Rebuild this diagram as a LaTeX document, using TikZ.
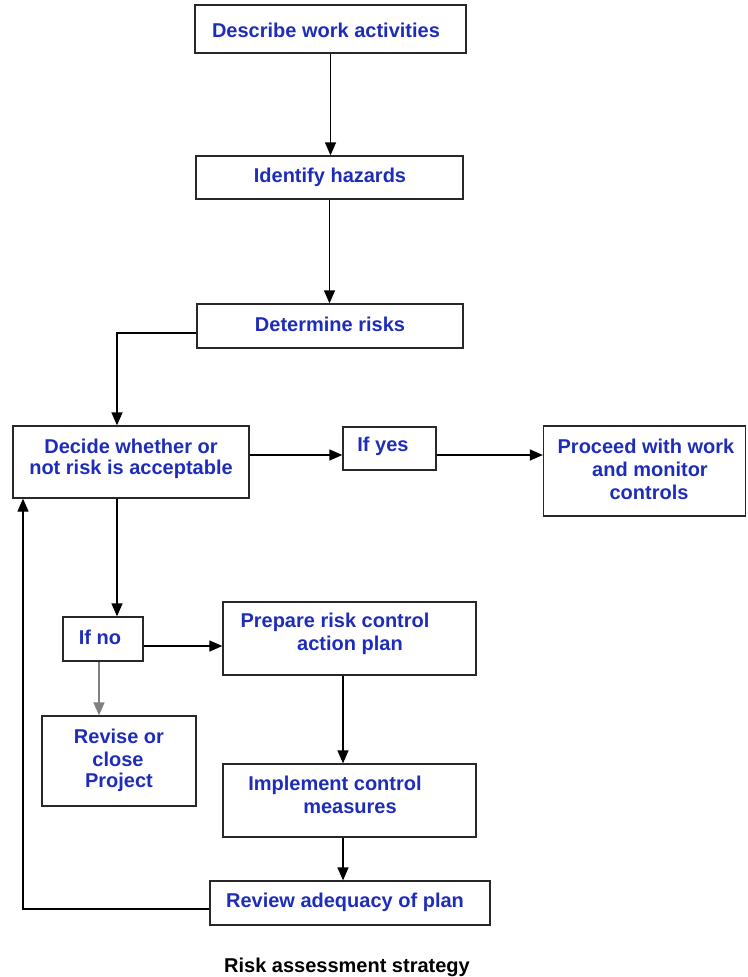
\documentclass[tikz,border=0pt]{standalone}
\usepackage{fontspec}
\setmainfont{Liberation Sans}
\usetikzlibrary{arrows.meta,calc}
\definecolor{txtblue}{RGB}{30,45,185}
\definecolor{linegray}{RGB}{40,40,40}
\begin{document}
\begin{tikzpicture}[x=1pt,y=-1pt,
  box/.style={draw=linegray,line width=1.3pt,inner sep=0pt,rectangle},
  lbl/.style={text=txtblue,font=\fontsize{20}{23}\selectfont\bfseries,inner sep=0pt,align=center},
  arr/.style={draw=black,line width=1.3pt,-{Triangle[length=13pt,width=11pt]}}]
\useasboundingbox (0,0) rectangle (747,977);
% boxes
\node[box,minimum width=271pt,minimum height=48pt] (d) at (330.5,29) {};
\node[box,minimum width=267pt,minimum height=43pt] (ih) at (329.5,177.5) {};
\node[box,minimum width=266pt,minimum height=44pt] (dr) at (330,326) {};
\node[box,minimum width=236pt,minimum height=72pt] (dec) at (131,462) {};
\node[box,minimum width=93pt,minimum height=43pt] (yes) at (389.5,448.5) {};
\node[box,minimum width=202pt,minimum height=90pt] (proc) at (644.5,471) {};
\node[box,minimum width=80pt,minimum height=44pt] (no) at (103,639) {};
\node[box,minimum width=253pt,minimum height=73pt] (prep) at (349.5,638.5) {};
\node[box,minimum width=154pt,minimum height=90pt] (rev) at (119,761) {};
\node[box,minimum width=253pt,minimum height=73pt] (imp) at (349.5,800.5) {};
\node[box,minimum width=280pt,minimum height=44pt] (revw) at (350,903) {};
% texts
\node[lbl] (t1) at (326,30) {Describe work activities};
\node[lbl] (t2) at (330,177) {Identify hazards};
\node[lbl] (t3) at (330,324) {Determine risks};
\node[lbl] (t4a) at (131,446) {Decide whether or};
\node[lbl] (t4b) at (131,469) {not risk is acceptable};
\node[lbl] (t5) at (383,446) {If yes};
\node[lbl] (t6a) at (646,446) {Proceed with work};
\node[lbl] (t6b) at (650,469) {and monitor};
\node[lbl] (t6c) at (649,492) {controls};
\node[lbl] (t7) at (100,637) {If no};
\node[lbl] (t8a) at (335,622) {Prepare risk control};
\node[lbl] (t8b) at (350,645) {action plan};
\node[lbl] (t9a) at (119,736) {Revise or};
\node[lbl] (t9b) at (118,759) {close};
\node[lbl] (t9c) at (119,782) {Project};
\node[lbl] (t10a) at (335,785) {Implement control};
\node[lbl] (t10b) at (350,808) {measures};
\node[lbl] (t11) at (345,902) {Review adequacy of plan};
\node[lbl,text=black] (cap) at (347,967) {Risk assessment strategy};
% connectors
\draw[arr] (d.south) -- (d.south |- ih.north);
\draw[arr] (ih.south) -- (ih.south |- dr.north);
\draw[arr] ([yshift=-7pt]dr.west) -| ([xshift=-14pt]dec.north);
\draw[arr] (dec.east |- 0,455) -- (yes.west |- 0,455);
\draw[arr] (yes.east |- 0,455) -- (proc.west |- 0,455);
\draw[arr] ([xshift=-14pt]dec.south) -- ([xshift=-14pt]dec.south |- no.north);
\draw[arr] ([yshift=-7pt]no.east) -- ([yshift=-7pt]no.east -| prep.west);
\draw[arr,draw=gray] ([xshift=-4pt]no.south) -- ([xshift=-4pt]no.south |- rev.north);
\draw[arr] ([xshift=-6.5pt]prep.south) -- ([xshift=-6.5pt]prep.south |- imp.north);
\draw[arr] ([xshift=-6.5pt]imp.south) -- ([xshift=-6.5pt]imp.south |- revw.north);
\coordinate (lc) at (23,909);
\draw[arr] (revw.west |- lc) -- (lc) -- (lc |- dec.south);
\end{tikzpicture}
\end{document}
